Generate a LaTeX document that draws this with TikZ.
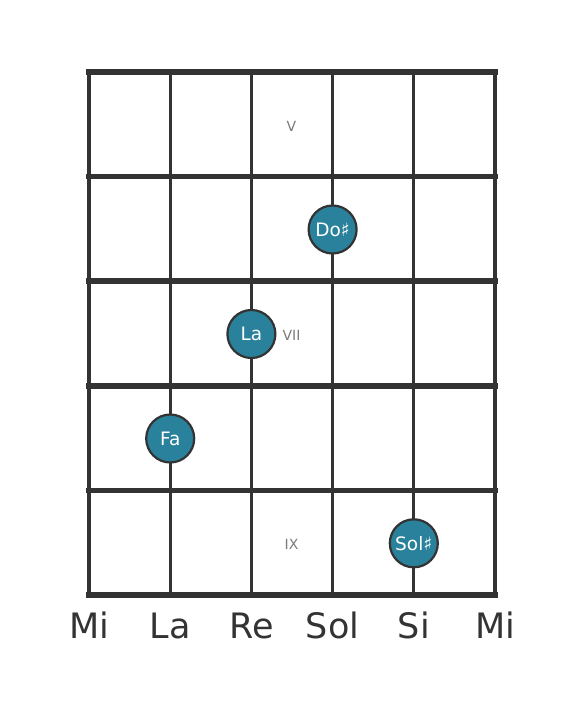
\documentclass[tikz,border=0pt]{standalone}
\usepackage{fontspec}
\setmainfont{DejaVu Sans}
\definecolor{gridc}{HTML}{333333}
\definecolor{notec}{HTML}{2A819B}
\definecolor{romanc}{HTML}{7A7A7A}
\begin{document}
\begin{tikzpicture}[x=1pt,y=-1pt,
  stringline/.style={draw=gridc,line width=3.3pt},
  fretline/.style={draw=gridc,line width=5.5pt,line cap=rect},
  note/.style={circle,draw=gridc,line width=2.2pt,fill=notec,minimum size=48pt,inner sep=0pt,text=white,font=\fontsize{18.5}{18.5}\selectfont},
  roman/.style={text=romanc,font=\fontsize{14}{14}\selectfont},
  sname/.style={text=gridc,font=\fontsize{35}{35}\selectfont,anchor=base}]
\useasboundingbox (0,0) rectangle (584,711);
% strings
\foreach \x in {89,170.2,251.4,332.6,413.8,495}{
  \draw[stringline] (\x,72) -- (\x,595);
}
% frets
\foreach \y in {72,176.6,281.2,385.8,490.4,595}{
  \draw[fretline] (89,\y) -- (495,\y);
}
% fret numbers
\node[roman] (r5) at (291.5,126) {V};
\node[roman] (r7) at (291.5,335) {VII};
\node[roman] (r9) at (291.5,544) {IX};
% notes
\node[note] (n1) at (332.6,229.5) {Do♯};
\node[note] (n2) at (251.4,334) {La};
\node[note] (n3) at (170.2,438.5) {Fa};
\node[note] (n4) at (413.8,543.3) {Sol♯};
% string names
\node[sname] (s1) at (89,638.5) {Mi};
\node[sname] (s2) at (170.2,638.5) {La};
\node[sname] (s3) at (251.4,638.5) {Re};
\node[sname] (s4) at (332.6,638.5) {Sol};
\node[sname] (s5) at (413.8,638.5) {Si};
\node[sname] (s6) at (495,638.5) {Mi};
\end{tikzpicture}
\end{document}
